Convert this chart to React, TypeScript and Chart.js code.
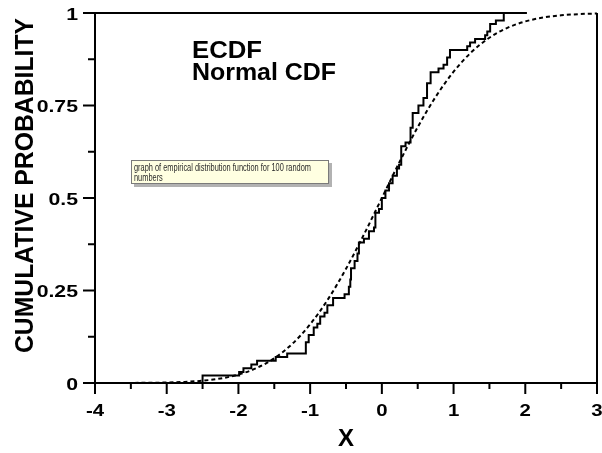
import React, { useEffect, useRef } from "react";
import { Chart, registerables } from "chart.js";

Chart.register(...registerables);

// ECDF step points (x where a jump happens, cumulative probability after the jump)
const ECDF_X = [-3.45, -2.5, -1.99, -1.93, -1.82, -1.74, -1.48, -1.32, -1.06, -1.02, -0.95, -0.9,
  -0.86, -0.8, -0.76, -0.68, -0.52, -0.46, -0.44, -0.43, -0.38, -0.34, -0.32, -0.25, -0.18, -0.11,
  -0.09, -0.04, 0.0, 0.05, 0.1, 0.15, 0.21, 0.24, 0.27, 0.33, 0.4, 0.43, 0.51, 0.58, 0.63, 0.68,
  0.79, 0.86, 0.91, 0.95, 1.19, 1.23, 1.3, 1.44, 1.47, 1.51, 1.59, 1.7, 2.02];
const ECDF_Y = [0, 0.02, 0.03, 0.04, 0.05, 0.06, 0.07, 0.08, 0.11, 0.13, 0.15, 0.16,
  0.18, 0.19, 0.21, 0.23, 0.24, 0.26, 0.28, 0.31, 0.33, 0.35, 0.38, 0.39, 0.41, 0.42,
  0.46, 0.47, 0.5, 0.52, 0.54, 0.56, 0.58, 0.59, 0.64, 0.65, 0.69, 0.73, 0.75, 0.77, 0.81, 0.84,
  0.85, 0.86, 0.88, 0.9, 0.91, 0.92, 0.93, 0.94, 0.95, 0.97, 0.98, 1.0, 1.0];

// Normal CDF curve
const NORM_X = [-3.45, -3.25, -3.0, -2.75, -2.5, -2.25, -2.0, -1.75, -1.5, -1.25, -1.0, -0.75, -0.5,
  -0.25, 0, 0.25, 0.5, 0.75, 1.0, 1.25, 1.5, 1.75, 2.0, 2.25, 2.5, 2.75, 3.0];
const NORM_Y = [0.0003, 0.0006, 0.0013, 0.003, 0.0062, 0.0122, 0.0228, 0.0401, 0.0668, 0.1056, 0.1587,
  0.2266, 0.3085, 0.4013, 0.5, 0.5987, 0.6915, 0.7734, 0.8413, 0.8944, 0.9332, 0.9599, 0.9772, 0.9878,
  0.9938, 0.997, 0.9987];

const X_TICKS = [-4, -3, -2, -1, 0, 1, 2, 3];
const X_TICK_LABELS = ["-4", "-3", "-2", "-1", "0", "1", "2", "3"];
const Y_TICKS = [0, 0.25, 0.5, 0.75, 1];
const Y_TICK_LABELS = ["0", "0.25", "0.5", "0.75", "1"];
const TOP_LINE_END = 2.02;

const LEGEND_LINES = ["ECDF", "Normal CDF"];
const NOTE_LINES = ["graph of empirical distribution function for 100 random", "numbers"];
const X_TITLE = "X";
const Y_TITLE = "CUMULATIVE PROBABILITY";

function fitText(ctx: CanvasRenderingContext2D, text: string, x: number, y: number, sx: number, align: CanvasTextAlign) {
  ctx.save();
  ctx.translate(x, y);
  ctx.scale(sx, 1);
  ctx.textAlign = align;
  ctx.fillText(text, 0, 0);
  ctx.restore();
}

const decorPlugin = {
  id: "decor",
  afterDraw(chart: any) {
    const { ctx, chartArea: a, scales } = chart;
    const xs = scales.x;
    const ys = scales.y;
    ctx.save();
    ctx.strokeStyle = "#000";
    ctx.fillStyle = "#000";
    ctx.lineWidth = 2;
    ctx.beginPath();
    ctx.moveTo(a.left, a.top);
    ctx.lineTo(a.left, a.bottom);
    ctx.lineTo(a.right, a.bottom);
    ctx.lineTo(a.right, a.top);
    ctx.moveTo(a.left, a.top);
    ctx.lineTo(xs.getPixelForValue(TOP_LINE_END), a.top);
    ctx.stroke();

    // ticks
    ctx.beginPath();
    for (let v = -4; v <= 3.001; v += 0.5) {
      const px = xs.getPixelForValue(v);
      const major = Math.abs(v - Math.round(v)) < 1e-6;
      ctx.moveTo(px, a.bottom);
      ctx.lineTo(px, a.bottom + (major ? 11 : 6));
    }
    for (let v = 0; v <= 1.0001; v += 0.125) {
      const py = ys.getPixelForValue(v);
      const major = Math.abs(v * 4 - Math.round(v * 4)) < 1e-6;
      ctx.moveTo(a.left, py);
      ctx.lineTo(a.left - (major ? 12 : 7), py);
    }
    ctx.stroke();

    // tick labels
    ctx.font = "bold 17px 'Liberation Sans', Arial, sans-serif";
    ctx.textBaseline = "middle";
    X_TICKS.forEach((v, i) => {
      fitText(ctx, X_TICK_LABELS[i], xs.getPixelForValue(v), a.bottom + 28, 1.2, "center");
    });
    Y_TICKS.forEach((v, i) => {
      fitText(ctx, Y_TICK_LABELS[i], a.left - 17, ys.getPixelForValue(v) + 2, 1.25, "right");
    });

    // axis titles
    ctx.textBaseline = "alphabetic";
    ctx.font = "bold 24px 'Liberation Sans', Arial, sans-serif";
    fitText(ctx, X_TITLE, 346, 446, 1.0, "center");

    ctx.font = "bold 25px 'Liberation Sans', Arial, sans-serif";
    const tw = ctx.measureText(Y_TITLE).width;
    ctx.save();
    ctx.translate(33, 185.5);
    ctx.rotate(-Math.PI / 2);
    ctx.scale(335 / tw, 1);
    ctx.textAlign = "center";
    ctx.fillText(Y_TITLE, 0, 0);
    ctx.restore();

    // legend-like labels
    ctx.font = "bold 23px 'Liberation Sans', Arial, sans-serif";
    const w0 = ctx.measureText(LEGEND_LINES[0]).width;
    fitText(ctx, LEGEND_LINES[0], 192, 58, 70 / w0, "left");
    const w1 = ctx.measureText(LEGEND_LINES[1]).width;
    fitText(ctx, LEGEND_LINES[1], 192, 80, 144 / w1, "left");

    // note box
    ctx.fillStyle = "rgba(0,0,0,0.3)";
    ctx.fillRect(134, 163, 198, 24);
    ctx.fillStyle = "#ffffe1";
    ctx.fillRect(131, 160, 198, 24);
    ctx.lineWidth = 1;
    ctx.strokeStyle = "#7a7a7a";
    ctx.strokeRect(131.5, 160.5, 197, 23);
    ctx.fillStyle = "#2a2a2a";
    ctx.font = "10.5px 'Liberation Sans', 'DejaVu Sans', sans-serif";
    const nw = ctx.measureText(NOTE_LINES[0]).width;
    const ns = 177 / nw;
    fitText(ctx, NOTE_LINES[0], 134, 171, ns, "left");
    fitText(ctx, NOTE_LINES[1], 134, 181, ns, "left");
    ctx.restore();
  },
};

export default function App() {
  const ref = useRef<HTMLCanvasElement | null>(null);
  useEffect(() => {
    if (!ref.current) return;
    const chart = new Chart(ref.current, {
      type: "scatter",
      data: {
        datasets: [
          {
            label: "ECDF",
            data: ECDF_X.map((x, i) => ({ x, y: ECDF_Y[i] })),
            showLine: true,
            stepped: true,
            borderColor: "#000",
            borderWidth: 2,
            pointRadius: 0,
            clip: false,
          } as any,
          {
            label: "Normal CDF",
            data: NORM_X.map((x, i) => ({ x, y: NORM_Y[i] })),
            showLine: true,
            borderColor: "#000",
            borderWidth: 2,
            borderDash: [4, 3],
            cubicInterpolationMode: "monotone",
            pointRadius: 0,
            clip: false,
          } as any,
        ],
      },
      options: {
        animation: false,
        responsive: false,
        devicePixelRatio: 1,
        layout: { padding: { left: 95, right: 5, top: 13, bottom: 70 } },
        plugins: { legend: { display: false }, tooltip: { enabled: false } },
        events: [],
        scales: {
          x: { type: "linear", min: -4, max: 3, display: false },
          y: { type: "linear", min: 0, max: 1, display: false },
        },
      },
      plugins: [decorPlugin],
    });
    return () => chart.destroy();
  }, []);
  return (
    <div style={{ position: "absolute", left: 0, top: 0, width: 602, height: 453, background: "#fff" }}>
      <canvas ref={ref} width={602} height={453} style={{ display: "block" }} />
    </div>
  );
}
